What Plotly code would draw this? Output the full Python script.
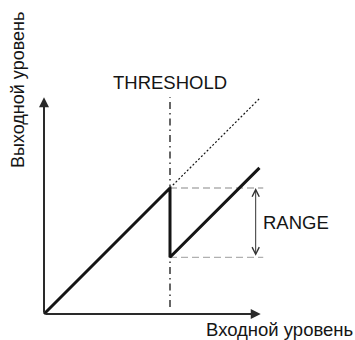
import plotly.graph_objects as go

# Gate / expander transfer curve (schematic), units in dB-like steps
threshold = 10.0          # input level where the gate acts
gate_range = 5.5          # attenuation below the unprocessed curve
axis_max = 17.2           # length of both axes
line_end = 17.1           # where the drawn curves stop
guide_end = 17.4          # end of the grey guide lines
range_arrow_x = 16.8      # x of the RANGE dimension arrow

# curve pieces
below_x = [0.0, threshold]
below_y = [0.0, threshold]
drop_x = [threshold, threshold]
drop_y = [threshold, threshold - gate_range]
above_x = [threshold, line_end]
above_y = [threshold - gate_range, line_end - gate_range]
unity_x = [threshold, line_end]
unity_y = [threshold, line_end]

labels = {
    "y": "Выходной уровень",
    "x": "Входной уровень",
    "threshold": "THRESHOLD",
    "range": "RANGE",
}

W, H = 355, 340
scale = 12.6          # px per unit
x0_px, y0_px = 44, 314

FONT = "Liberation Sans, Arial, Helvetica, sans-serif"
INK = "#151515"

fig = go.Figure()

# grey guides at top and bottom of the range
for yv in (threshold, threshold - gate_range):
    fig.add_trace(go.Scatter(x=[threshold, guide_end], y=[yv, yv], mode="lines",
                             line=dict(color="#b0b0b0", width=1.3, dash="7px,4px"),
                             hoverinfo="skip"))

# threshold dash-dot line
fig.add_trace(go.Scatter(x=[threshold, threshold], y=[0.55, axis_max], mode="lines",
                         line=dict(color=INK, width=1.3, dash="7px,4px,1.5px,4px"),
                         hoverinfo="skip"))

# unprocessed continuation (dotted)
fig.add_trace(go.Scatter(x=unity_x, y=unity_y, mode="lines",
                         line=dict(color=INK, width=1.2, dash="2px,2px"),
                         hoverinfo="skip"))

# transfer curve
curve_x = below_x + drop_x[1:] + above_x[1:]
curve_y = below_y + drop_y[1:] + above_y[1:]
fig.add_trace(go.Scatter(x=curve_x, y=curve_y, mode="lines",
                         line=dict(color=INK, width=3),
                         hoverinfo="skip"))

annotations = [
    # axes with arrowheads
    dict(x=axis_max, y=0, ax=0, ay=0, xref="x", yref="y", axref="x", ayref="y",
         showarrow=True, arrowhead=2, arrowsize=1.0, arrowwidth=2, arrowcolor="#2a2a2a", text=""),
    dict(x=0, y=axis_max, ax=0, ay=0, xref="x", yref="y", axref="x", ayref="y",
         showarrow=True, arrowhead=2, arrowsize=1.0, arrowwidth=2, arrowcolor="#2a2a2a", text=""),
    # range dimension arrow
    dict(x=range_arrow_x, y=threshold, ax=range_arrow_x, ay=threshold - gate_range,
         xref="x", yref="y", axref="x", ayref="y", showarrow=True,
         arrowhead=5, startarrowhead=5, arrowside="end+start",
         arrowsize=1.4, startarrowsize=1.4, arrowwidth=1, arrowcolor="#333", text=""),
    # text labels
    dict(x=threshold, y=(y0_px - 82) / scale, xref="x", yref="y", text=labels["threshold"],
         showarrow=False, xanchor="center", yanchor="middle",
         font=dict(family=FONT, size=18.5, color=INK)),
    dict(x=(261 - x0_px) / scale, y=threshold - gate_range / 2, xref="x", yref="y",
         text=labels["range"], showarrow=False, xanchor="left", yanchor="middle",
         font=dict(family=FONT, size=18.5, color=INK)),
    dict(x=279 / W, y=1 - 329 / H, xref="paper", yref="paper", text=labels["x"],
         showarrow=False, xanchor="center", yanchor="middle",
         font=dict(family=FONT, size=18.5, color=INK)),
    dict(x=18 / W, y=1 - 90 / H, xref="paper", yref="paper", text=labels["y"],
         showarrow=False, xanchor="center", yanchor="middle", textangle=-90,
         font=dict(family=FONT, size=18, color=INK)),
]

fig.update_layout(
    width=W, height=H,
    margin=dict(l=0, r=0, t=0, b=0),
    paper_bgcolor="white", plot_bgcolor="white",
    showlegend=False,
    xaxis=dict(range=[-x0_px / scale, (W - x0_px) / scale], visible=False, fixedrange=True),
    yaxis=dict(range=[-(H - y0_px) / scale, y0_px / scale], visible=False, fixedrange=True),
    annotations=annotations,
)

fig.write_html("out.html", config={"displayModeBar": False})
